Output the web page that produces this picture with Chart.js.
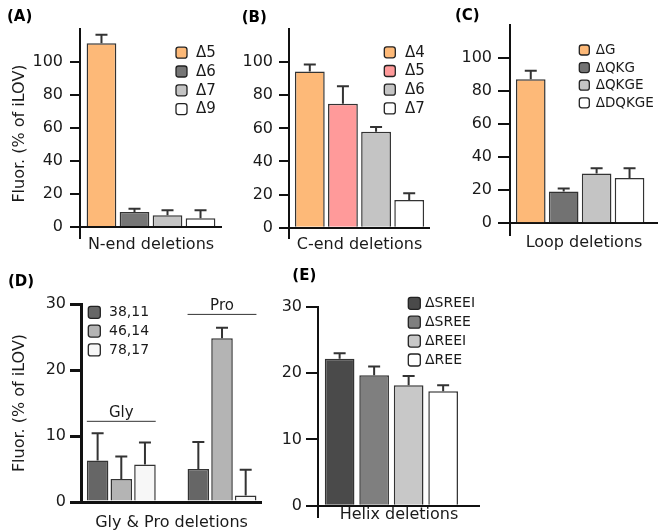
<!DOCTYPE html>
<html><head><meta charset="utf-8">
<script src="https://cdn.jsdelivr.net/npm/chart.js@4.4.1/dist/chart.umd.min.js"></script>
<style>
body{margin:0;background:#fff;width:661px;height:531px;position:relative;overflow:hidden}
canvas{position:absolute}
</style></head>
<body>
<canvas id="cA" width="225" height="260" style="left:0;top:0;width:225px;height:260px"></canvas>
<canvas id="cB" width="210" height="260" style="left:225px;top:0;width:210px;height:260px"></canvas>
<canvas id="cC" width="226" height="260" style="left:435px;top:0;width:226px;height:260px"></canvas>
<canvas id="cD" width="270" height="271" style="left:0;top:260px;width:270px;height:271px"></canvas>
<canvas id="cE" width="391" height="271" style="left:270px;top:260px;width:391px;height:271px"></canvas>
<script>
// ---- data ----
const yAxisTitle = 'Fluor. (% of iLOV)';
const highTicks = [0, 20, 40, 60, 80, 100];
const lowTicks = [0, 10, 20, 30];

const nEndGroups = ['N-end deletions'];
const nEndSeries = ['Δ5', 'Δ6', 'Δ7', 'Δ9'];
const nEndValues = [111.3, 9.1, 7.1, 5.3];
const nEndErrors = [5.2, 2.0, 3.0, 4.8];

const cEndGroups = ['C-end deletions'];
const cEndSeries = ['Δ4', 'Δ5', 'Δ6', 'Δ7'];
const cEndValues = [94.3, 74.8, 57.9, 16.7];
const cEndErrors = [4.2, 10.7, 3.0, 4.1];

const loopGroups = ['Loop deletions'];
const loopSeries = ['ΔG', 'ΔQKG', 'ΔQKGE', 'ΔDQKGE'];
const loopValues = [87.2, 19.3, 30.1, 27.4];
const loopErrors = [5.1, 1.8, 3.2, 5.9];

const glyProTitle = 'Gly & Pro deletions';
const glyProGroups = ['Gly', 'Pro'];
const glyProSeries = ['38,11', '46,14', '78,17'];
const glyPro3811 = [6.3, 5.0];
const glyPro4614 = [3.5, 24.8];
const glyPro7817 = [5.7, 1.0];
const glyPro3811Err = [4.1, 4.1];
const glyPro4614Err = [3.4, 1.6];
const glyPro7817Err = [3.3, 3.9];

const helixGroups = ['Helix deletions'];
const helixSeries = ['ΔSREEI', 'ΔSREE', 'ΔREEI', 'ΔREE'];
const helixValues = [22.2, 19.7, 18.2, 17.3];
const helixErrors = [0.8, 1.3, 1.4, 0.9];

// ---- styles ----
const FONT = 'DejaVu Sans';
const TXT = '#1a1a1a';
const AX = '#111';
const ORANGE = '#FDB978';

function buildPanel(p) {
  const datasets = p.series.map((name, s) => ({
    label: name,
    data: p.groups.map((g, i) => ({ x: i, y: p.values[s][i] })),
    errors: p.errors[s],
    backgroundColor: p.colors[s],
    borderColor: '#333',
    borderWidth: 1.5,
    categoryPercentage: p.catPct,
    barPercentage: p.barPct
  }));
  const extras = {
    id: 'extras' + p.id,
    afterDatasetsDraw(chart) {
      const ctx = chart.ctx, ys = chart.scales.y;
      ctx.save();
      ctx.strokeStyle = '#333';
      ctx.lineWidth = 2;
      chart.data.datasets.forEach((ds, di) => {
        const meta = chart.getDatasetMeta(di);
        meta.data.forEach((bar, i) => {
          const top = ys.getPixelForValue(ds.data[i].y + ds.errors[i]);
          ctx.beginPath();
          ctx.moveTo(bar.x, bar.y);
          ctx.lineTo(bar.x, top);
          ctx.moveTo(bar.x - p.cap, top);
          ctx.lineTo(bar.x + p.cap, top);
          ctx.stroke();
        });
      });
      ctx.restore();
    },
    afterDraw(chart) {
      const ctx = chart.ctx;
      ctx.save();
      // legend
      const L = p.legend;
      chart.data.datasets.forEach((ds, i) => {
        const cy = L.y0 + i * L.dy;
        const x = L.boxX, y = cy - L.box / 2, w = L.box, h = L.box, r = 2.5;
        ctx.beginPath();
        ctx.moveTo(x + r, y); ctx.lineTo(x + w - r, y); ctx.quadraticCurveTo(x + w, y, x + w, y + r);
        ctx.lineTo(x + w, y + h - r); ctx.quadraticCurveTo(x + w, y + h, x + w - r, y + h);
        ctx.lineTo(x + r, y + h); ctx.quadraticCurveTo(x, y + h, x, y + h - r);
        ctx.lineTo(x, y + r); ctx.quadraticCurveTo(x, y, x + r, y);
        ctx.closePath();
        ctx.fillStyle = ds.backgroundColor; ctx.fill();
        ctx.lineWidth = 1.3; ctx.strokeStyle = '#222'; ctx.stroke();
        ctx.fillStyle = TXT;
        ctx.font = L.font + 'px "' + FONT + '"';
        ctx.textAlign = 'left'; ctx.textBaseline = 'middle';
        ctx.fillText(ds.label, L.textX, cy + 0.5);
      });
      // panel letter
      ctx.font = 'bold 15px "' + FONT + '"';
      ctx.fillStyle = '#000'; ctx.textAlign = 'left'; ctx.textBaseline = 'middle';
      ctx.fillText(p.letter, p.letterX, p.letterY);
      // group brackets
      if (p.brackets) {
        const ys = chart.scales.y;
        const first = chart.getDatasetMeta(0), last = chart.getDatasetMeta(chart.data.datasets.length - 1);
        p.groups.forEach((g, i) => {
          const a = first.data[i], b = last.data[i];
          const x1 = a.x - a.width / 2, x2 = b.x + b.width / 2;
          const ly = ys.getPixelForValue(p.brackets[i]);
          ctx.strokeStyle = '#333'; ctx.lineWidth = 1;
          ctx.beginPath(); ctx.moveTo(x1, ly + 0.5); ctx.lineTo(x2, ly + 0.5); ctx.stroke();
          ctx.fillStyle = TXT; ctx.font = '15px "' + FONT + '"';
          ctx.textAlign = 'center'; ctx.textBaseline = 'middle';
          ctx.fillText(g, (x1 + x2) / 2, ly - 8);
        });
      }
      ctx.restore();
    }
  };
  new Chart(document.getElementById(p.id), {
    type: 'bar',
    data: { datasets },
    options: {
      responsive: false,
      animation: false,
      layout: { padding: { left: 0, right: p.padRight, top: p.padTop, bottom: 0 } },
      plugins: { legend: { display: false }, tooltip: { enabled: false } },
      scales: {
        x: {
          type: 'linear', offset: false, min: p.xMin, max: p.xMax,
          afterBuildTicks: s => { s.ticks = p.groups.map((g, i) => ({ value: i })); },
          afterFit: s => { s.height = p.xHeight; },
          ticks: { display: false },
          grid: { display: false },
          border: { display: false },
          title: { display: true, text: p.xTitle, color: TXT, font: { family: FONT, size: 16, lineHeight: 1 }, padding: { top: 0, bottom: p.xTitlePad } }
        },
        y: {
          min: p.yMin, max: p.yMax,
          afterBuildTicks: s => { s.ticks = p.ticks.map(v => ({ value: v })); },
          afterFit: s => { s.width = p.yWidth; },
          border: { display: true, color: AX, width: p.axisW },
          grid: {
            display: true, drawOnChartArea: true, drawTicks: true,
            color: c => (c.tick && c.tick.value === 0) ? AX : 'rgba(0,0,0,0)',
            lineWidth: p.axisW, tickColor: AX, tickWidth: p.axisW, tickLength: p.tickLen
          },
          ticks: { color: TXT, font: { family: FONT, size: 16 }, padding: p.tickPad },
          title: p.yTitle ? { display: true, text: p.yTitle, color: TXT, font: { family: FONT, size: 16, lineHeight: 1.2 }, padding: { top: 10, bottom: 0 } } : { display: false }
        }
      }
    },
    plugins: [extras]
  });
}

buildPanel({
  id: 'cA', groups: nEndGroups, series: nEndSeries,
  values: nEndValues.map(v => [v]), errors: nEndErrors.map(e => [e]),
  colors: [ORANGE, '#767676', '#C4C4C4', '#FFFFFF'],
  xTitle: nEndGroups[0], yTitle: yAxisTitle, ticks: highTicks,
  yMin: -6.67, yMax: 120, xMin: -0.5, xMax: 0.5, catPct: 0.93, barPct: 0.9,
  padTop: 29, padRight: 3, xHeight: 22, xTitlePad: 7, yWidth: 80, tickLen: 10, tickPad: 7, axisW: 2, cap: 6,
  legend: { boxX: 176, y0: 52.7, dy: 18.8, box: 11, textX: 196, font: 15 },
  letter: '(A)', letterX: 7, letterY: 17
});
buildPanel({
  id: 'cB', groups: cEndGroups, series: cEndSeries,
  values: cEndValues.map(v => [v]), errors: cEndErrors.map(e => [e]),
  colors: [ORANGE, '#FF9A9A', '#C4C4C4', '#FFFFFF'],
  xTitle: cEndGroups[0], yTitle: null, ticks: highTicks,
  yMin: -6.2, yMax: 120, xMin: -0.5, xMax: 0.5, catPct: 0.94, barPct: 0.9,
  padTop: 29, padRight: 5, xHeight: 22, xTitlePad: 7, yWidth: 64, tickLen: 10, tickPad: 6, axisW: 2, cap: 6,
  legend: { boxX: 159.3, y0: 52.3, dy: 18.7, box: 11, textX: 180, font: 15 },
  letter: '(B)', letterX: 16.7, letterY: 18
});
buildPanel({
  id: 'cC', groups: loopGroups, series: loopSeries,
  values: loopValues.map(v => [v]), errors: loopErrors.map(e => [e]),
  colors: [ORANGE, '#727272', '#C4C4C4', '#FFFFFF'],
  xTitle: loopGroups[0], yTitle: null, ticks: highTicks,
  yMin: -7.1, yMax: 120, xMin: -0.474, xMax: 0.526, catPct: 0.89, barPct: 0.9,
  padTop: 25, padRight: 3, xHeight: 25, xTitlePad: 8.7, yWidth: 75, tickLen: 12, tickPad: 6, axisW: 2, cap: 6,
  legend: { boxX: 144.3, y0: 50, dy: 17.6, box: 10, textX: 160.7, font: 13.5 },
  letter: '(C)', letterX: 20, letterY: 16
});
buildPanel({
  id: 'cD', groups: glyProGroups, series: glyProSeries,
  values: [glyPro3811, glyPro4614, glyPro7817], errors: [glyPro3811Err, glyPro4614Err, glyPro7817Err],
  colors: ['#666666', '#B4B4B4', '#F7F7F7'],
  xTitle: glyProTitle, yTitle: yAxisTitle, ticks: lowTicks,
  yMin: 0, yMax: 30, xMin: -0.40, xMax: 1.397, catPct: 0.705, barPct: 0.91,
  padTop: 44, padRight: 8, xHeight: 29, xTitlePad: 0, yWidth: 81, tickLen: 11, tickPad: 4, axisW: 3, cap: 6,
  legend: { boxX: 88.3, y0: 52.3, dy: 18.8, box: 12, textX: 109, font: 14 },
  letter: '(D)', letterX: 8, letterY: 21.7,
  brackets: [12.3, 28.5]
});
buildPanel({
  id: 'cE', groups: helixGroups, series: helixSeries,
  values: helixValues.map(v => [v]), errors: helixErrors.map(e => [e]),
  colors: ['#4A4A4A', '#7F7F7F', '#C8C8C8', '#FFFFFF'],
  xTitle: helixGroups[0], yTitle: null, ticks: lowTicks,
  yMin: -1.7, yMax: 30, xMin: -0.453, xMax: 0.547, catPct: 0.852, barPct: 0.86,
  padTop: 47, padRight: 181, xHeight: 14, xTitlePad: 8, yWidth: 48, tickLen: 12, tickPad: 4, axisW: 2, cap: 6,
  legend: { boxX: 138.3, y0: 43.3, dy: 18.9, box: 12, textX: 155, font: 14 },
  letter: '(E)', letterX: 22.3, letterY: 15.7
});
</script>
</body></html>
